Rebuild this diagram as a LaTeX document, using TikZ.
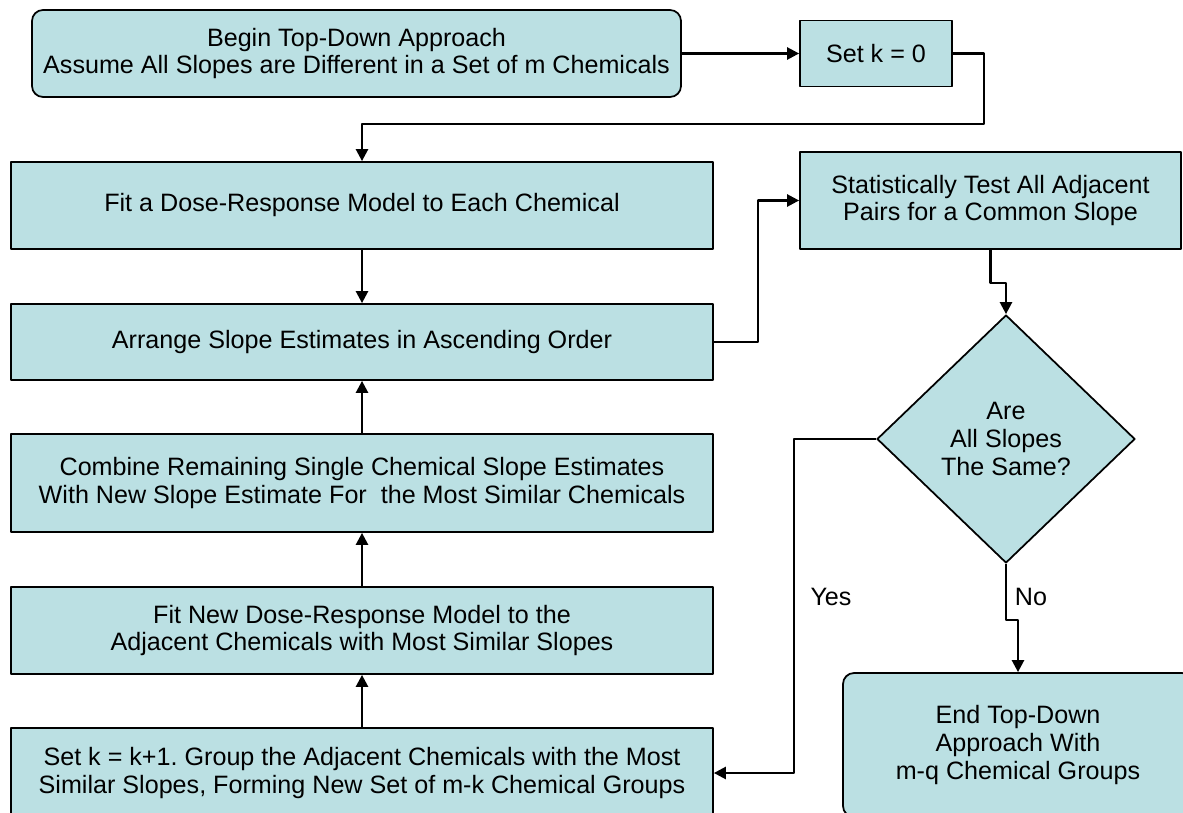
\documentclass[tikz,border=0pt]{standalone}
\usepackage{fontspec}
\setmainfont{Liberation Sans}
\usepackage{xcolor}
\usepackage{tikz}
\usetikzlibrary{arrows.meta}
\usetikzlibrary{shapes.geometric}
\usetikzlibrary{positioning}
\definecolor{boxblue}{RGB}{187,224,227}
\frenchspacing

\begin{document}
\begin{tikzpicture}[line join=round,
  every node/.style={font=\fontsize{14.3}{15.9}\selectfont,align=center,inner sep=0pt},
  stepbox/.style={draw,fill=boxblue,line width=1pt,rectangle},
  roundbox/.style={stepbox,rounded corners=.22cm},
  askbox/.style={draw,fill=boxblue,line width=1pt,diamond,aspect=1.04,inner sep=0pt},
  arr/.style={line width=1.4pt,-{Triangle[length=.24cm,width=.24cm]}}]
\useasboundingbox (0,0) rectangle (23.66,16.24);
\clip (0,0) rectangle (23.66,16.24);
\node[roundbox,minimum width=12.98cm,minimum height=1.74cm] (begin) at (7.13,15.17)
  {Begin Top-Down Approach\\Assume All Slopes are Different in a Set of m Chemicals};
\node[stepbox,minimum width=3.04cm,minimum height=1.32cm] (setk) at (17.52,15.17) {Set k = 0};
\node[stepbox,minimum width=14.04cm,minimum height=1.74cm] (fit) at (7.24,12.13)
  {Fit a Dose-Response Model to Each Chemical};
\node[stepbox,minimum width=14.04cm,minimum height=1.52cm] (arrange) at (7.24,9.40)
  {Arrange Slope Estimates in Ascending Order};
\node[stepbox,minimum width=14.04cm,minimum height=1.96cm] (combine) at (7.24,6.58)
  {Combine Remaining Single Chemical Slope Estimates\\With New Slope Estimate For\ \ the Most Similar Chemicals};
\node[stepbox,minimum width=14.04cm,minimum height=1.74cm] (fitnew) at (7.24,3.63)
  {Fit New Dose-Response Model to the\\Adjacent Chemicals with Most Similar Slopes};
\node[stepbox,minimum width=14.04cm,minimum height=1.80cm] (setkk) at (7.24,0.78)
  {Set k = k+1. Group the Adjacent Chemicals with the Most\\Similar Slopes, Forming New Set of m-k Chemical Groups};
\node[stepbox,minimum width=7.62cm,minimum height=1.94cm] (stat) at (19.81,12.23)
  {Statistically Test All Adjacent\\Pairs for a Common Slope};
\node[askbox,minimum width=5.16cm,minimum height=4.96cm] (same) at (20.12,7.46)
  {Are\\All Slopes\\The Same?};
\node[roundbox,minimum width=7.0cm,minimum height=2.88cm] (done) at (20.36,1.34)
  {End Top-Down\\Approach With\\m-q Chemical Groups};
\node (yes) at (16.62,4.30) {Yes};
\node (no) at (20.62,4.30) {No};
\coordinate (turn) at (19.68,13.76);
\draw[arr] (begin.east)--(setk.west);
\draw[arr] (setk.east)-|(turn)-|(fit.north);
\draw[arr] (fit.south)--(arrange.north);
\draw[arr] (combine.north)--(arrange.south);
\draw[arr] (fitnew.north)--(combine.south);
\draw[arr] (setkk.north)--(fitnew.south);
\draw[arr] (arrange.east)--++(.88,0)|-(stat.west);
\draw[arr] (stat.south)--++(0,-.66)-|(same.north);
\draw[arr] (same.west)--++(-1.64,0)|-(setkk.east);
\draw[arr] (same.south)--++(0,-1.12)-|(done.north);
\end{tikzpicture}
\end{document}
